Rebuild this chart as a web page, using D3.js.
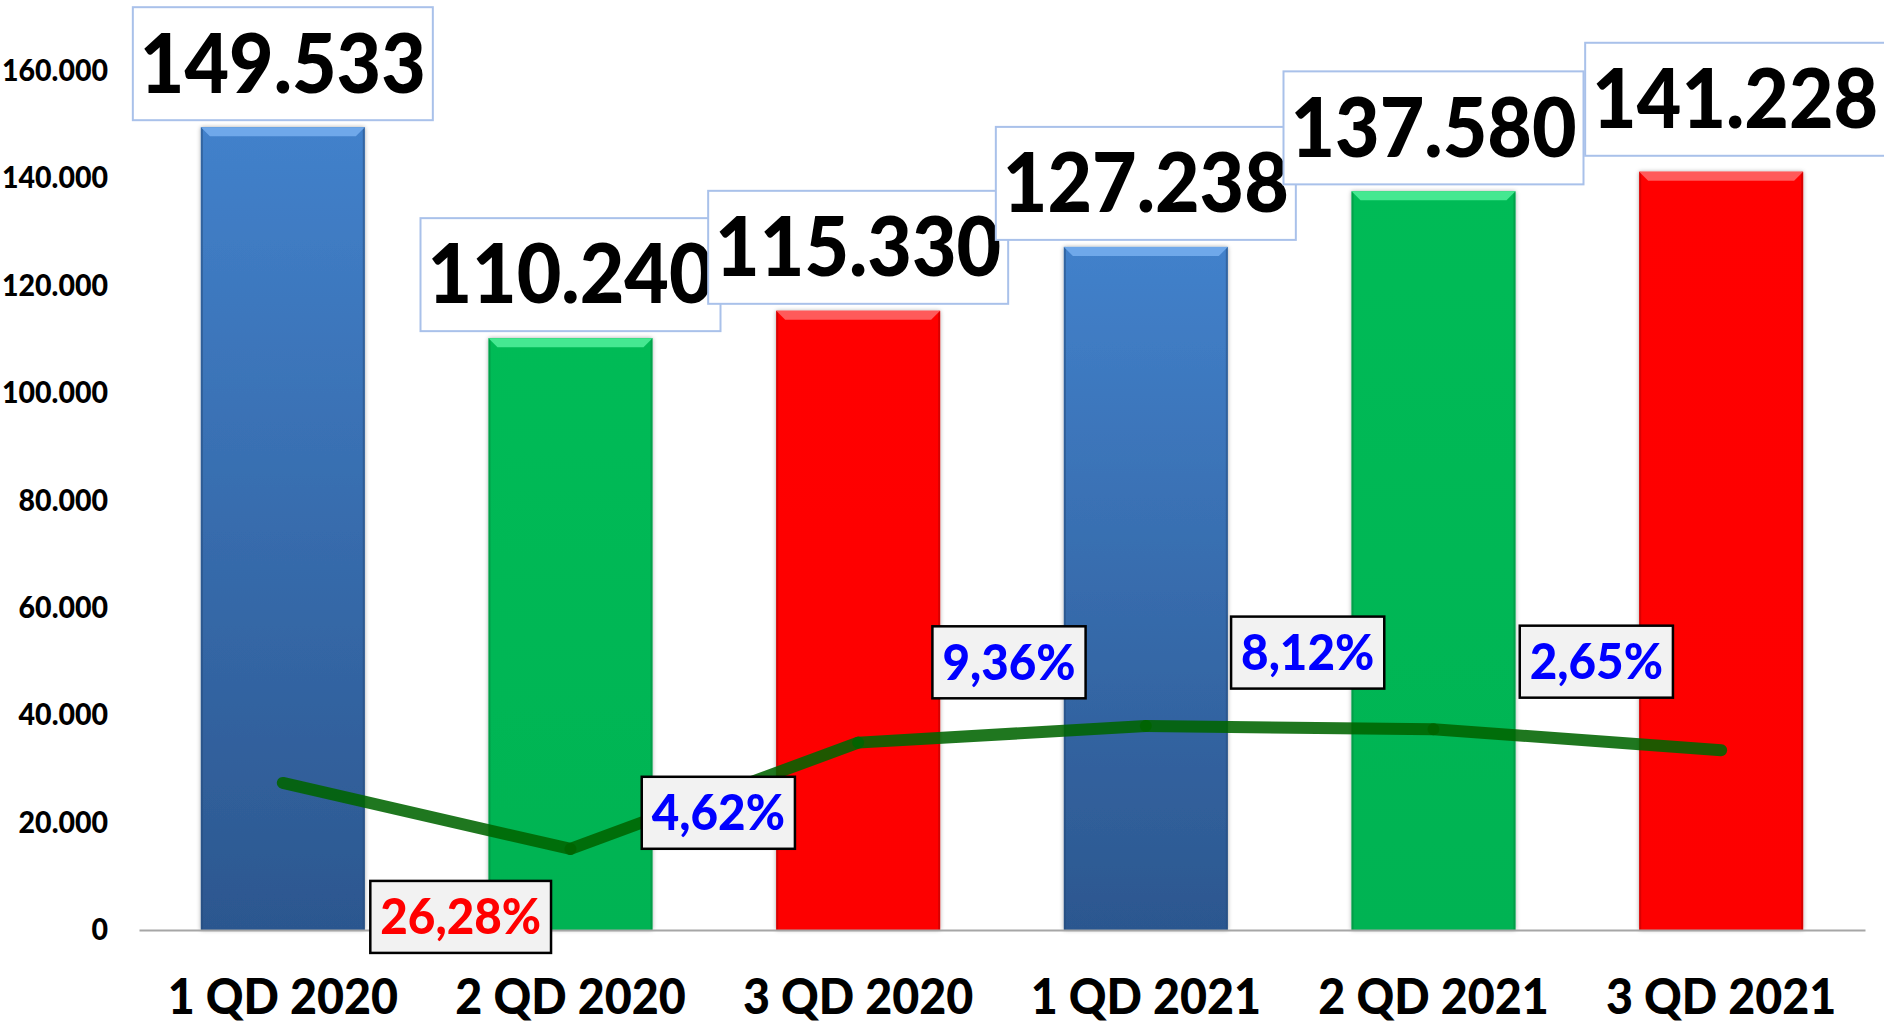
<!DOCTYPE html>
<html lang="en">
<head>
<meta charset="UTF-8">
<title>Quarterly values with change</title>
<style>
  body { margin: 0; background: #fff; }
  svg { display: block; font-family: "Lato", "Carlito", "Open Sans", sans-serif; font-weight: 900; }
  .axis text { fill: #000; font-weight: 900; }
</style>
<script src="https://d3js.org/d3.v7.min.js"></script>
</head>
<body>
<svg width="1884" height="1023"></svg>
<script>
// data
const categories = ["1 QD 2020", "2 QD 2020", "3 QD 2020", "1 QD 2021", "2 QD 2021", "3 QD 2021"];
const values = [149533, 110240, 115330, 127238, 137580, 141228];
const lineValues = [27400, 15100, 34900, 38000, 37400, 33500];
const changes = [-26.28, 4.62, 9.36, 8.12, 2.65];
const yTicks = [0, 20000, 40000, 60000, 80000, 100000, 120000, 140000, 160000];

// layout and styles
const plotLeft = 139, plotRight = 1865, plotBase = 930, plotTop = 71;
const palette = [
  { top: "#4281cb", bottom: "#2c578f", bevel: "#6fa8ea", edge: "#24497a" },
  { top: "#06bb57", bottom: "#05b352", bevel: "#45e891", edge: "#04873e" },
  { top: "#ff0606", bottom: "#fd0303", bevel: "#ff5a5a", edge: "#b30000" }
];
// change label offsets (dx, dy) from the midpoint of the line segment
const changeShift = [[34, 101], [4, 17], [7, -72], [18, -75], [19, -78]];
// value box offsets (dx, dy)
const valueShift = [[0, 0], [0, 0], [0, 0], [0, 0], [0, 0], [14, -9]];
const squeeze = 0.95;

const nf = d3.formatLocale({ decimal: ",", thousands: ".", grouping: [3], currency: ["", ""] });
const fmtInt = nf.format(",d");
const fmtPct = v => nf.format(".2f")(Math.abs(v)) + "%";

const svg = d3.select("svg");

const x = d3.scaleBand().domain(categories).range([plotLeft, plotRight])
  .paddingInner(0.43).paddingOuter(0.215);
const y = d3.scaleLinear().domain([0, 160000]).range([plotBase, plotTop]);

const defs = svg.append("defs");
palette.forEach((p, i) => {
  const g = defs.append("linearGradient").attr("id", "grad" + i)
    .attr("x1", 0).attr("y1", 0).attr("x2", 0).attr("y2", 1);
  g.append("stop").attr("offset", "0%").attr("stop-color", p.top);
  g.append("stop").attr("offset", "100%").attr("stop-color", p.bottom);
});
const sh = defs.append("filter").attr("id", "shadow")
  .attr("x", "-10%").attr("y", "-10%").attr("width", "120%").attr("height", "120%");
sh.append("feDropShadow").attr("dx", 0).attr("dy", 0).attr("stdDeviation", 2)
  .attr("flood-color", "#000").attr("flood-opacity", 0.35);

// y axis
const yAxis = svg.append("g").attr("class", "axis")
  .attr("transform", `translate(${plotLeft},0)`)
  .call(d3.axisLeft(y).tickValues(yTicks).tickFormat(fmtInt).tickSize(0).tickPadding(31));
yAxis.select(".domain").remove();
yAxis.selectAll("text").attr("font-size", 30).attr("font-family", "Lato, sans-serif");

// bars
const bars = svg.append("g").selectAll("g").data(values).join("g");
bars.append("rect")
  .attr("x", (d, i) => x(categories[i]))
  .attr("y", d => y(d))
  .attr("width", x.bandwidth())
  .attr("height", d => plotBase - y(d))
  .attr("fill", (d, i) => `url(#grad${i % 3})`)
  .attr("filter", "url(#shadow)");
bars.append("rect")
  .attr("x", (d, i) => x(categories[i]))
  .attr("y", d => y(d))
  .attr("width", 2)
  .attr("height", d => plotBase - y(d))
  .attr("fill", (d, i) => palette[i % 3].edge).attr("opacity", 0.5);
bars.append("rect")
  .attr("x", (d, i) => x(categories[i]) + x.bandwidth() - 2)
  .attr("y", d => y(d))
  .attr("width", 2)
  .attr("height", d => plotBase - y(d))
  .attr("fill", (d, i) => palette[i % 3].edge).attr("opacity", 0.5);
bars.append("path")
  .attr("fill", (d, i) => palette[i % 3].bevel)
  .attr("d", (d, i) => {
    const x0 = x(categories[i]), x1 = x0 + x.bandwidth(), t = y(d), b = 9;
    return `M${x0},${t}L${x1},${t}L${x1 - b},${t + b}L${x0 + b},${t + b}Z`;
  });

// x axis
const xAxis = svg.append("g").attr("class", "axis")
  .attr("transform", `translate(0,${plotBase})`)
  .call(d3.axisBottom(x).tickSize(0).tickPadding(49));
xAxis.select(".domain").attr("stroke", "#a6a6a6").attr("stroke-width", 2);
xAxis.selectAll("text").attr("font-size", 49).attr("font-family", "Lato, sans-serif");

// value labels with boxes
const cx = i => x(categories[i]) + x.bandwidth() / 2;
const vl = svg.append("g").selectAll("g").data(values).join("g")
  .attr("transform", (d, i) => `translate(${cx(i) + valueShift[i][0]},${y(d) - 7 - 113 + valueShift[i][1]})`);
vl.append("rect").attr("x", -150).attr("y", 0).attr("width", 300).attr("height", 113)
  .attr("fill", "#fff").attr("stroke", "#a9c1ea").attr("stroke-width", 2);
vl.append("text").attr("x", 0).attr("y", 57).attr("dy", "0.35em")
  .attr("text-anchor", "middle").attr("font-size", 81).attr("fill", "#000")
  .text(d => fmtInt(d));

// growth line
const lineColor = "#006400";
const pts = lineValues.map((v, i) => [cx(i), y(v)]);
svg.append("g").selectAll("line").data(d3.pairs(pts)).join("line")
  .attr("x1", d => d[0][0]).attr("y1", d => d[0][1])
  .attr("x2", d => d[1][0]).attr("y2", d => d[1][1])
  .attr("stroke", lineColor).attr("stroke-opacity", 0.88)
  .attr("stroke-width", 12).attr("stroke-linecap", "round");

// change labels
const cl = svg.append("g").selectAll("g").data(changes).join("g")
  .attr("transform", (d, i) => {
    const mx = (pts[i][0] + pts[i + 1][0]) / 2 + changeShift[i][0];
    const my = (pts[i][1] + pts[i + 1][1]) / 2 + changeShift[i][1];
    return `translate(${mx},${my})`;
  });
cl.append("rect").attr("class", "box");
cl.append("text").attr("text-anchor", "middle").attr("dy", "0.35em")
  .attr("font-size", 50)
  .attr("fill", d => d < 0 ? "#ff0000" : "#0000ff")
  .text(d => fmtPct(d));
cl.each(function () {
  const g = d3.select(this);
  const w = g.select("text").node().getComputedTextLength() * squeeze + 20;
  g.select("rect").attr("x", -w / 2).attr("y", -36).attr("width", w).attr("height", 72)
    .attr("fill", "#f2f2f2").attr("stroke", "#000").attr("stroke-width", 2.5);
});

// condense Lato a little toward the original narrow face
svg.selectAll("text").each(function () {
  const len = this.getComputedTextLength();
  d3.select(this).attr("textLength", len * squeeze).attr("lengthAdjust", "spacingAndGlyphs");
});
</script>
</body>
</html>
